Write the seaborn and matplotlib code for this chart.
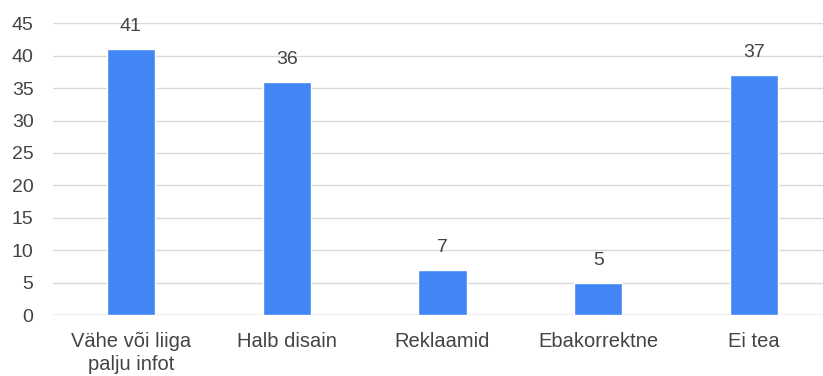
import matplotlib
matplotlib.use("Agg")
import matplotlib.pyplot as plt
import seaborn as sns
import pandas as pd

categories = ["Vähe või liiga\npalju infot", "Halb disain", "Reklaamid", "Ebakorrektne", "Ei tea"]
values = [41, 36, 7, 5, 37]
yticks = [0, 5, 10, 15, 20, 25, 30, 35, 40, 45]

sns.set_theme(style="white")
plt.rcParams["font.family"] = ["Liberation Sans", "DejaVu Sans"]

df = pd.DataFrame({"category": categories, "value": values})

fig = plt.figure(figsize=(8.23, 3.76), dpi=100)
ax = fig.add_axes([53 / 823, 61 / 376, (832 - 53) / 823, (315 - 23.3) / 376])

sns.barplot(data=df, x="category", y="value", color="#4285f4", width=0.31,
            saturation=1, ax=ax, zorder=3)

ax.set_ylim(0, 45)
ax.set_xlim(-0.5, 4.5)
ax.set_yticks(yticks)
ax.yaxis.grid(True, color="#d9d9d9", linewidth=1, zorder=0)
ax.set_axisbelow(True)
for s in ax.spines.values():
    s.set_visible(False)
ax.axhline(0, color="#cccccc", linewidth=1, zorder=2)

ax.set_xlabel("")
ax.set_ylabel("")
ax.tick_params(axis="both", length=0, labelcolor="#444444")
ax.tick_params(axis="y", pad=14, labelsize=14)
ax.tick_params(axis="x", pad=12, labelsize=14.5)
for lbl in ax.get_xticklabels():
    lbl.set_linespacing(1.3)

for i, v in enumerate(values):
    ax.annotate(str(v), (i, v), xytext=(0, 10), textcoords="offset points",
                ha="center", va="bottom", fontsize=14, color="#444444")

fig.savefig("out.png", dpi=100, facecolor="white")
